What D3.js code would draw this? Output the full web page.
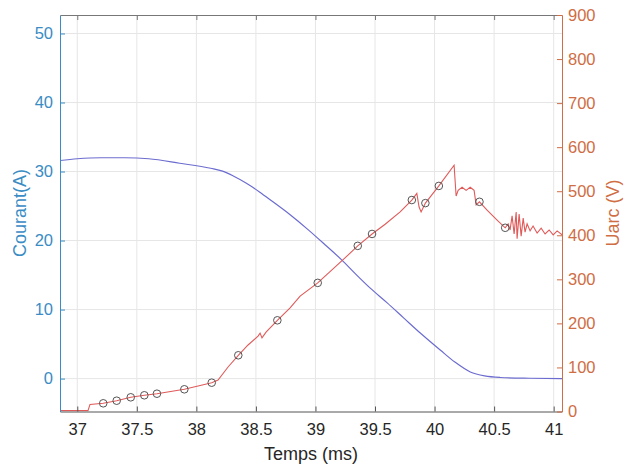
<!DOCTYPE html>
<html>
<head>
<meta charset="utf-8">
<script src="https://cdn.jsdelivr.net/npm/d3@7"></script>
<style>
  html, body { margin: 0; padding: 0; background: #fff; }
  svg { display: block; font-family: "Liberation Sans", Arial, sans-serif; }
</style>
</head>
<body>
<svg id="chart" width="624" height="468"></svg>
<script>
// ---- Data ----
const xTicks = [37, 37.5, 38, 38.5, 39, 39.5, 40, 40.5, 41];
const courantTicks = [0, 10, 20, 30, 40, 50];
const uarcTicks = [0, 100, 200, 300, 400, 500, 600, 700, 800, 900];

const courantTime = [36.855, 37.0, 37.2, 37.4, 37.6, 37.86, 38.12, 38.22, 38.31, 38.42, 38.53, 38.64, 38.79, 38.94, 39.08, 39.22, 39.34, 39.46, 39.6, 39.74, 39.88, 40.05, 40.17, 40.3, 40.42, 40.55, 40.8, 41.07];
const courant =     [31.6, 31.85, 32.0, 32.0, 31.85, 31.2, 30.47, 30.05, 29.35, 28.3, 27.05, 25.65, 23.7, 21.55, 19.4, 17.2, 15.1, 13.1, 11.0, 8.8, 6.6, 4.1, 2.4, 0.96, 0.38, 0.16, 0.05, 0.0];

const uarcTime = [36.855, 37.09, 37.107, 37.218, 37.331, 37.449, 37.563, 37.669, 37.899, 38.129, 38.182, 38.266, 38.352, 38.434, 38.518, 38.535, 38.551, 38.585, 38.68, 38.787, 38.871, 39.019, 39.12, 39.246, 39.355, 39.475, 39.585, 39.711, 39.809, 39.851, 39.87, 39.887, 39.923, 40.036, 40.164, 40.181, 40.198, 40.231, 40.265, 40.299, 40.332, 40.349, 40.377, 40.441, 40.523, 40.593, 40.618, 40.634, 40.651, 40.668, 40.685, 40.693, 40.71, 40.727, 40.744, 40.76, 40.777, 40.802, 40.827, 40.861, 40.895, 40.928, 40.962, 40.996, 41.029, 41.071];
const uarc =     [2, 2, 16, 18.6, 24.5, 32.2, 36.8, 40.4, 50.4, 65.4, 71.5, 101, 127.6, 151, 171, 178, 167, 180, 207, 235, 262, 292, 317, 348, 376, 403, 425, 453, 480, 495, 464, 453, 473, 512, 559, 489, 502, 509, 502, 509, 502, 469, 476, 457, 435, 417, 426, 412, 444, 403, 453, 392, 448, 398, 439, 407, 426, 410, 421, 405, 416, 403, 412, 401, 410, 401];

const markerTime = [37.218, 37.331, 37.449, 37.563, 37.669, 37.899, 38.129, 38.352, 38.68, 39.019, 39.355, 39.475, 39.809, 39.923, 40.036, 40.377, 40.593];
const markerUarc = [18.6, 24.5, 32.2, 36.8, 40.4, 50.4, 65.4, 127.6, 207, 292, 376, 403, 480, 473, 512, 476, 417];

// ---- Layout ----
const L = 60, R = 562, T = 15, B = 411.5;
const blueAxis = "#3a8cc4", orangeAxis = "#cf6d44", gridCol = "#e6e6e6";

const svg = d3.select("#chart");
svg.append("rect").attr("width", 624).attr("height", 468).attr("fill", "#fff");

const x = d3.scaleLinear().domain([36.855, 41.07]).range([L, R]);
const yL = d3.scaleLinear().domain([-4.77, 52.68]).range([B, T]);
const yR = d3.scaleLinear().domain([0, 900]).range([B, T]);

// Grid
const grid = svg.append("g");
grid.selectAll("line.v").data(xTicks).join("line")
  .attr("x1", d => x(d)).attr("x2", d => x(d)).attr("y1", T).attr("y2", B)
  .attr("stroke", gridCol).attr("stroke-width", 1);
grid.selectAll("line.h").data(courantTicks).join("line")
  .attr("x1", L).attr("x2", R).attr("y1", d => yL(d)).attr("y2", d => yL(d))
  .attr("stroke", gridCol).attr("stroke-width", 1);

// Lines
svg.append("clipPath").attr("id", "clip").append("rect")
  .attr("x", L).attr("y", T).attr("width", R - L).attr("height", B - T);
const plot = svg.append("g").attr("clip-path", "url(#clip)");

const courantLine = d3.line().x((d, i) => x(courantTime[i])).y(d => yL(d)).curve(d3.curveMonotoneX);
plot.append("path").datum(courant).attr("d", courantLine)
  .attr("fill", "none").attr("stroke", "#6c6cd0").attr("stroke-width", 1.2);

const uarcLine = d3.line().x((d, i) => x(uarcTime[i])).y(d => yR(d));
plot.append("path").datum(uarc).attr("d", uarcLine)
  .attr("fill", "none").attr("stroke", "#e05a5a").attr("stroke-width", 1.1);

plot.selectAll("circle.m").data(markerUarc).join("circle")
  .attr("cx", (d, i) => x(markerTime[i])).attr("cy", d => yR(d)).attr("r", 3.8)
  .attr("fill", "none").attr("stroke", "#555").attr("stroke-width", 1);

// Axes
const fontSize = "16.5px";
const gx = svg.append("g").attr("transform", `translate(0,${B})`)
  .call(d3.axisBottom(x).tickValues(xTicks).tickFormat(d3.format("")).tickSizeInner(-5).tickSizeOuter(0).tickPadding(12));
gx.select(".domain").attr("stroke", "#555");
gx.selectAll(".tick line").attr("stroke", "#555");
gx.selectAll("text").attr("fill", "#262626").style("font-size", fontSize).style("font-family", "Liberation Sans, Arial, sans-serif");

const gtop = svg.append("g").attr("transform", `translate(0,${T})`)
  .call(d3.axisTop(x).tickValues(xTicks).tickFormat("").tickSizeInner(-5).tickSizeOuter(0));
gtop.select(".domain").attr("stroke", "#777");
gtop.selectAll(".tick line").attr("stroke", "#777");

const gl = svg.append("g").attr("transform", `translate(${L},0)`)
  .call(d3.axisLeft(yL).tickValues(courantTicks).tickSizeInner(-5).tickSizeOuter(0).tickPadding(7));
gl.select(".domain").attr("stroke", blueAxis);
gl.selectAll(".tick line").attr("stroke", blueAxis);
gl.selectAll("text").attr("fill", blueAxis).style("font-size", fontSize).style("font-family", "Liberation Sans, Arial, sans-serif");

const gr = svg.append("g").attr("transform", `translate(${R},0)`)
  .call(d3.axisRight(yR).tickValues(uarcTicks).tickSizeInner(-5).tickSizeOuter(0).tickPadding(6));
gr.select(".domain").attr("stroke", orangeAxis);
gr.selectAll(".tick line").attr("stroke", orangeAxis);
gr.selectAll("text").attr("fill", orangeAxis).style("font-size", fontSize).style("font-family", "Liberation Sans, Arial, sans-serif");

// Titles
svg.append("text").attr("transform", "translate(26,213) rotate(-90)")
  .attr("text-anchor", "middle").attr("fill", blueAxis).style("font-size", "18px")
  .text("Courant(A)");
svg.append("text").attr("transform", "translate(619,213) rotate(-90)")
  .attr("text-anchor", "middle").attr("fill", orangeAxis).style("font-size", "18px")
  .text("Uarc (V)");
svg.append("text").attr("x", 311).attr("y", 460)
  .attr("text-anchor", "middle").attr("fill", "#262626").style("font-size", "18px")
  .text("Temps (ms)");
</script>
</body>
</html>
